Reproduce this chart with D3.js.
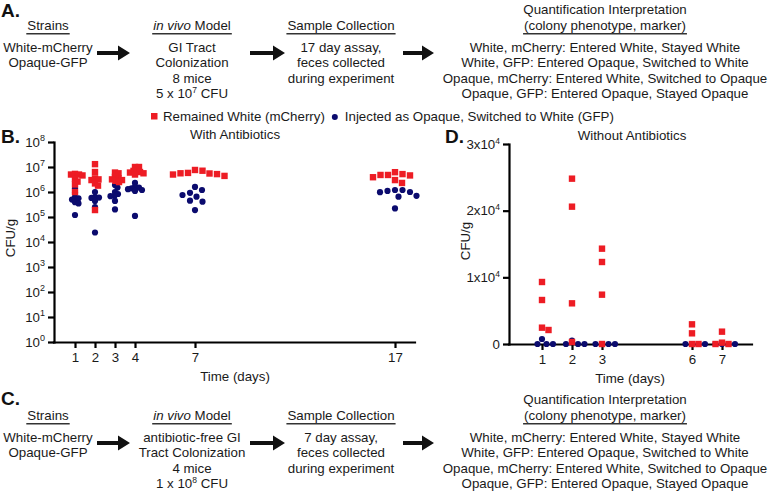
<!DOCTYPE html>
<html><head><meta charset="utf-8">
<script src="https://cdn.jsdelivr.net/npm/d3@7"></script>
<style>
body{margin:0;background:#fff;}
svg{display:block;font-family:"Liberation Sans",Arial,Helvetica,sans-serif;white-space:pre;}
</style></head><body>
<svg id="chart" width="771" height="493"></svg>
<script>
// ---------------- DATA ----------------
const seriesNames = ["Remained White (mCherry)", "Injected as Opaque, Switched to White (GFP)"];
const seriesColors = ["#ED1C24", "#0B0B6E"];

// Panel B: with antibiotics (CFU/g, log scale), 8 mice per day
const daysB = [1, 2, 3, 4, 7, 17];
const mCherryB = [
  [2.6e6, 5.0e6, 5.3e6, 4.6e6, 5.0e6, 3.4e6, 2.0e6, 1.0e6],
  [1.3e7, 6.3e6, 3.5e6, 3.2e6, 3.0e6, 2.2e6, 1.8e6, 1.9e5],
  [6.0e6, 5.6e6, 4.0e6, 3.5e6, 3.2e6, 3.0e6, 2.8e6, 2.5e6],
  [1.0e7, 1.0e7, 7.6e6, 7.0e6, 6.3e6, 6.0e6, 5.6e6, 5.0e6],
  [7.6e6, 7.1e6, 5.8e6, 5.6e6, 5.5e6, 5.2e6, 5.0e6, 4.4e6],
  [6.2e6, 5.2e6, 4.8e6, 4.8e6, 4.6e6, 3.9e6, 3.0e6, 2.3e6]
];
const gfpB = [
  [1.4e6, 9.3e5, 6.2e5, 5.6e5, 5.0e5, 3.9e5, 3.5e5, 1.2e5],
  [2.6e6, 1.0e6, 6.2e5, 6.0e5, 5.8e5, 4.4e5, 2.5e5, 2.4e4],
  [1.9e6, 1.5e6, 1.0e6, 8.3e5, 7.0e5, 6.8e5, 4.4e5, 2.0e5],
  [2.3e6, 1.6e6, 1.5e6, 1.4e6, 1.3e6, 1.2e6, 1.1e6, 1.1e5],
  [1.6e6, 1.2e6, 9.3e5, 7.6e5, 6.5e5, 4.5e5, 4.1e5, 1.9e5],
  [1.2e6, 1.2e6, 1.1e6, 1.0e6, 9.8e5, 7.0e5, 6.5e5, 2.2e5]
];
const yTicksB = [1, 10, 100, 1e3, 1e4, 1e5, 1e6, 1e7, 1e8];

// Panel D: without antibiotics (CFU/g, linear), 4 mice per day
const daysD = [1, 2, 3, 6, 7];
const mCherryD = [
  [9300, 6600, 2450, 2100],
  [24800, 20600, 6100, 300],
  [14300, 12300, 7400, 0],
  [2950, 1600, 0, 0],
  [1850, 200, 0, 0]
];
const gfpD = [
  [750, 0, 0, 0],
  [500, 0, 0, 0],
  [0, 0, 0, 0],
  [0, 0, 0, 0],
  [0, 0, 0, 0]
];
const yTicksD = [0, 10000, 20000, 30000];
const yTickLabelsD = ["0", "1x10^4", "2x10^4", "3x10^4"];

// Schematic text
const strainHead = "Strains";
const modelHead = "in vivo Model";
const sampleHead = "Sample Collection";
const quantHead = ["Quantification Interpretation", "(colony phenotype, marker)"];
const strainLines = ["White-mCherry", "Opaque-GFP"];
const modelLinesA = ["GI Tract", "Colonization", "8 mice", "5 x 10^7 CFU"];
const modelLinesC = ["antibiotic-free GI", "Tract Colonization", "4 mice", "1 x 10^8 CFU"];
const sampleLinesA = ["17 day assay,", "feces collected", "during experiment"];
const sampleLinesC = ["7 day assay,", "feces collected", "during experiment"];
const quantLines = [
  "White, mCherry: Entered White, Stayed White",
  "White, GFP: Entered Opaque, Switched to White",
  "Opaque, mCherry: Entered White, Switched to Opaque",
  "Opaque, GFP: Entered Opaque, Stayed Opaque"
];

// ---------------- DRAWING ----------------
const svg = d3.select("#chart");
const FS = 13.3;
const TXT = "#1a1a1a";

function rich(sel, str, supSize, rise) {
  const m = str.match(/^(.*?)\^(\S+)(.*)$/);
  if (!m) { sel.text(str); return; }
  sel.append("tspan").text(m[1]);
  sel.append("tspan").attr("font-size", supSize).attr("dy", -rise).text(m[2]);
  if (m[3]) sel.append("tspan").attr("dy", rise).text(m[3]);
}

function swarm(values, cx0, y, diam) {
  const pts = values.map(v => ({ v, cy: y(v) })).sort((a, b) => a.cy - b.cy);
  const placed = [];
  for (const p of pts) {
    let off = 0;
    for (let k = 0; k < 600; k++) {
      const o = (k % 2 === 1 ? 1 : -1) * Math.ceil(k / 2) * 0.5;
      if (placed.every(q => (cx0 + o - q.cx) ** 2 + (p.cy - q.cy) ** 2 >= diam * diam)) { off = o; break; }
    }
    p.cx = cx0 + off;
    placed.push(p);
  }
  return pts;
}

// spacing of swarm depends on room between neighbouring days
function swarmDiam(days, i, x, maxD) {
  const gaps = [];
  if (i > 0) gaps.push(x(days[i]) - x(days[i - 1]));
  if (i < days.length - 1) gaps.push(x(days[i + 1]) - x(days[i]));
  return Math.min(maxD, d3.min(gaps) / 5.6);
}

function panelLabel(txt, x, y) {
  svg.append("text").attr("x", x).attr("y", y).attr("font-size", 19).attr("font-weight", "bold").attr("fill", "#111").text(txt);
}

function arrow(x1, x2, y) {
  const hl = 12, hw = 7.5, sw = 1.9;
  svg.append("path")
    .attr("d", `M${x1},${y - sw}H${x2 - hl}V${y - hw}L${x2},${y}L${x2 - hl},${y + hw}V${y + sw}H${x1}Z`)
    .attr("fill", "#111");
}

function headText(str, x, y, italicPrefix) {
  const t = svg.append("text").attr("x", x).attr("y", y).attr("text-anchor", "middle").attr("font-size", FS).attr("fill", TXT);
  if (italicPrefix) {
    t.append("tspan").attr("font-style", "italic").text(italicPrefix);
    t.append("tspan").text(str.slice(italicPrefix.length));
  } else t.text(str);
  const w = t.node().getComputedTextLength();
  svg.append("line").attr("x1", x - w / 2 - 1).attr("x2", x + w / 2 + 1)
    .attr("y1", y + 3.8).attr("y2", y + 3.8).attr("stroke", "#333").attr("stroke-width", 1.4);
}

function lines(arr, x, y0, step) {
  arr.forEach((s, i) => {
    const t = svg.append("text").attr("x", x).attr("y", y0 + i * step).attr("text-anchor", "middle")
      .attr("font-size", FS).attr("fill", TXT);
    rich(t, s, 8.5, 5);
  });
}

function flow(dy, modelLines, sampleLines, quantDy) {
  const cols = [48, 192, 341, 605];
  headText(strainHead, cols[0], 30 + dy);
  headText(modelHead, cols[1], 30 + dy, "in vivo");
  headText(sampleHead, cols[2], 30 + dy);
  svg.append("text").attr("x", cols[3]).attr("y", 14 + quantDy).attr("text-anchor", "middle")
    .attr("font-size", FS).attr("fill", TXT).text(quantHead[0]);
  headText(quantHead[1], cols[3], 30 + quantDy);
  lines(strainLines, cols[0], 51.5 + dy, 15.5);
  lines(modelLines, cols[1], 51.5 + dy, 15.5);
  lines(sampleLines, cols[2], 51.5 + dy, 15.5);
  lines(quantLines, cols[3], 51.5 + dy, 15.5);
  arrow(97, 130, 53 + dy);
  arrow(250, 285, 53 + dy);
  arrow(403, 434, 53 + dy);
}

// Panel A
panelLabel("A.", 1, 17);
flow(0, modelLinesA, sampleLinesA, 0);
// Panel C
panelLabel("C.", 1, 405);
flow(390, modelLinesC, sampleLinesC, 390);

// Legend
{
  const g = svg.append("g").attr("font-size", FS).attr("fill", TXT);
  g.append("rect").attr("x", 151).attr("y", 113).attr("width", 6.5).attr("height", 6.5).attr("fill", seriesColors[0]);
  const t1 = g.append("text").attr("x", 163).attr("y", 120.5).text(seriesNames[0]);
  const e1 = 163 + t1.node().getComputedTextLength();
  g.append("circle").attr("cx", e1 + 10).attr("cy", 117).attr("r", 3).attr("fill", seriesColors[1]);
  g.append("text").attr("x", e1 + 20).attr("y", 120.5).text(seriesNames[1]);
}

function styleAxis(g) {
  g.select(".domain").attr("stroke", "#000").attr("stroke-width", 2.2).attr("stroke-linecap", "square");
  g.selectAll(".tick line").attr("stroke", "#000").attr("stroke-width", 2.2);
  g.selectAll(".tick text").attr("font-size", FS).attr("fill", TXT).attr("font-family", null);
}

// Panel B
{
  panelLabel("B.", 1, 143);
  const x = d3.scaleLinear().domain([0, 18]).range([55, 415]);
  const y = d3.scaleLog().domain([1, 1e8]).range([342, 142]);
  const axX = 54;
  const gy = svg.append("g").attr("transform", `translate(${axX},0)`)
    .call(d3.axisLeft(y).tickValues(yTicksB).tickSize(6).tickSizeOuter(0).tickPadding(3).tickFormat(() => ""));
  gy.selectAll(".tick text").each(function (d) {
    const t = d3.select(this);
    t.append("tspan").text("10");
    t.append("tspan").attr("font-size", 9).attr("dy", -6).text(Math.round(Math.log10(d)));
  });
  styleAxis(gy);
  const gx = svg.append("g").attr("transform", `translate(0,342)`)
    .call(d3.axisBottom(x).tickValues(daysB).tickSize(6).tickSizeOuter(0).tickPadding(5));
  gx.select(".domain").attr("d", `M${axX},0.5H${x.range()[1]}`);
  styleAxis(gx);
  svg.append("text").attr("x", 235).attr("y", 381).attr("text-anchor", "middle").attr("font-size", FS).attr("fill", TXT).text("Time (days)");
  svg.append("text").attr("transform", "translate(15,238) rotate(-90)").attr("text-anchor", "middle").attr("font-size", FS).attr("fill", TXT).text("CFU/g");
  svg.append("text").attr("x", 235).attr("y", 139).attr("text-anchor", "middle").attr("font-size", FS).attr("fill", TXT).text("With Antibiotics");

  const pg = svg.append("g");
  daysB.forEach((d, i) => {
    swarm(gfpB[i], x(d), y, swarmDiam(daysB, i, x, 7.5)).forEach(p => {
      pg.append("circle").attr("cx", p.cx).attr("cy", p.cy).attr("r", 3.1).attr("fill", seriesColors[1]);
    });
  });
  daysB.forEach((d, i) => {
    swarm(mCherryB[i], x(d), y, swarmDiam(daysB, i, x, 7.5)).forEach(p => {
      pg.append("rect").attr("x", p.cx - 3.2).attr("y", p.cy - 3.2).attr("width", 6.4).attr("height", 6.4).attr("fill", seriesColors[0]);
    });
  });
}

// Panel D
{
  panelLabel("D.", 445, 143);
  const x = d3.scaleLinear().domain([0, 8]).range([512, 752]);
  const y = d3.scaleLinear().domain([0, 30000]).range([344, 144]);
  const axX = 509;
  const gy = svg.append("g").attr("transform", `translate(${axX},0)`)
    .call(d3.axisLeft(y).tickValues(yTicksD).tickSize(6).tickSizeOuter(0).tickPadding(3).tickFormat(() => ""));
  gy.selectAll(".tick text").each(function (d, i) { rich(d3.select(this), yTickLabelsD[i], 8.5, 5); });
  styleAxis(gy);
  const gx = svg.append("g").attr("transform", `translate(0,344)`)
    .call(d3.axisBottom(x).tickValues(daysD).tickSize(6).tickSizeOuter(0).tickPadding(5));
  gx.select(".domain").attr("d", `M${axX},0.5H${x.range()[1]}`);
  styleAxis(gx);
  svg.append("text").attr("x", 630).attr("y", 383).attr("text-anchor", "middle").attr("font-size", FS).attr("fill", TXT).text("Time (days)");
  svg.append("text").attr("transform", "translate(470,241) rotate(-90)").attr("text-anchor", "middle").attr("font-size", FS).attr("fill", TXT).text("CFU/g");
  svg.append("text").attr("x", 632).attr("y", 140).attr("text-anchor", "middle").attr("font-size", FS).attr("fill", TXT).text("Without Antibiotics");

  const pg = svg.append("g");
  daysD.forEach((d, i) => {
    swarm(gfpD[i], x(d), y, 6.5).forEach(p => {
      pg.append("circle").attr("cx", p.cx).attr("cy", p.cy).attr("r", 3.1).attr("fill", seriesColors[1]);
    });
  });
  daysD.forEach((d, i) => {
    swarm(mCherryD[i], x(d), y, 6.5).forEach(p => {
      pg.append("rect").attr("x", p.cx - 3.2).attr("y", p.cy - 3.2).attr("width", 6.4).attr("height", 6.4).attr("fill", seriesColors[0]);
    });
  });
}
</script>
</body></html>
